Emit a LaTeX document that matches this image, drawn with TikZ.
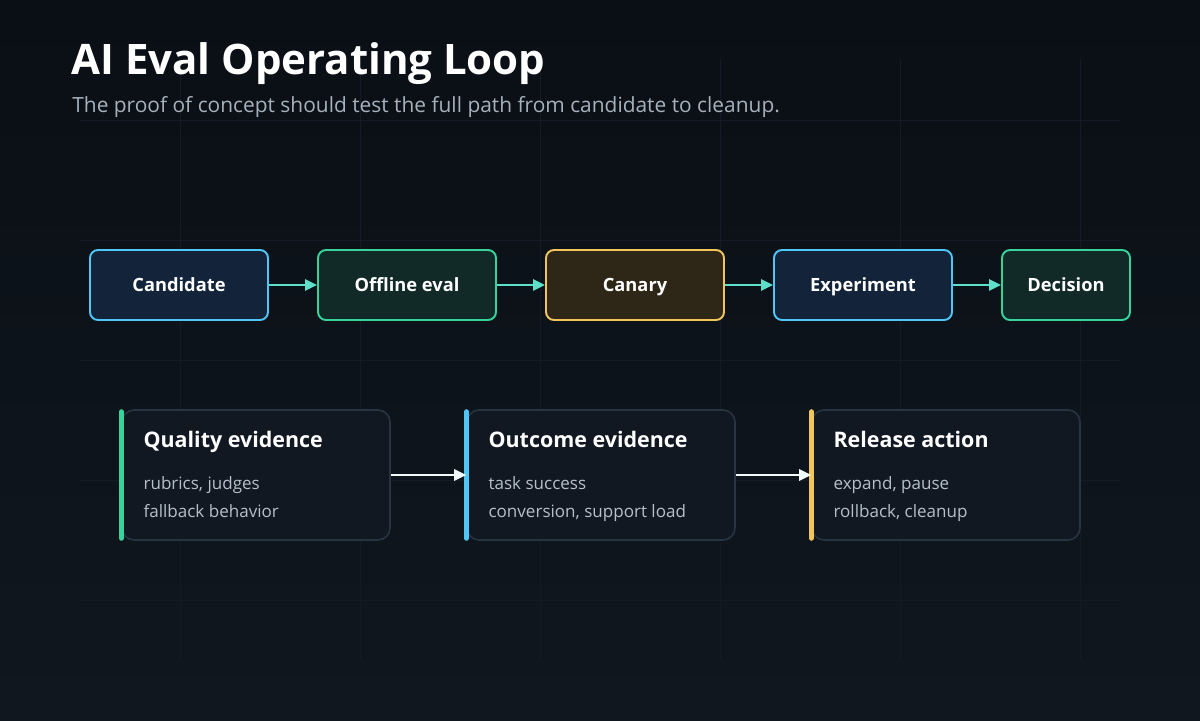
\documentclass[tikz,border=0pt]{standalone}
\usepackage{fontspec}
\setmainfont{Open Sans}
\usetikzlibrary{arrows.meta,positioning}
\definecolor{bgtop}{HTML}{0A0F15}
\definecolor{bgbot}{HTML}{10171F}
\definecolor{gridc}{HTML}{131C26}
\definecolor{blueln}{HTML}{4FC6F5}
\definecolor{greenln}{HTML}{37D39B}
\definecolor{yellowln}{HTML}{F2C45C}
\definecolor{bluefill}{HTML}{12233A}
\definecolor{greenfill}{HTML}{122A27}
\definecolor{yellowfill}{HTML}{2E2717}
\definecolor{tealarr}{HTML}{5EDFCA}
\definecolor{cardfill}{HTML}{111822}
\definecolor{cardln}{HTML}{273543}
\definecolor{bodytxt}{HTML}{B5C0CB}
\definecolor{subtxt}{HTML}{A6B1BC}

\begin{document}
\begin{tikzpicture}[x=0.02cm, y=-0.02cm,
    stage/.style={rectangle, rounded corners=0.16cm, draw, line width=1.1pt, minimum width=3.56cm, minimum height=1.4cm,
        text=white, text height=1.33ex, text depth=0pt, font=\bfseries\fontsize{10.4}{12}\selectfont},
    card/.style={rectangle, rounded corners=0.24cm, draw=cardln, fill=cardfill, line width=0.9pt, minimum width=5.36cm, minimum height=2.6cm},
    cardtitle/.style={anchor=base west, inner sep=0pt, text=white, font=\bfseries\fontsize{12.2}{14}\selectfont},
    cardbody/.style={anchor=base west, inner sep=0pt, text=bodytxt, font=\fontsize{9.7}{11}\selectfont},
    accent/.style={line width=0.1cm, line cap=round},
    flow/.style={-{Triangle[length=0.24cm, width=0.22cm]}, tealarr, line width=1.6pt},
    link/.style={-{Triangle[length=0.24cm, width=0.22cm]}, white!92!tealarr, line width=1.5pt}
]
    % background and grid
    \shade[top color=bgtop, bottom color=bgbot] (0,0) rectangle (1200,720);
    \useasboundingbox (0,0) rectangle (1200,720);
    \foreach \y in {120,240,360,480,600}
        \draw[gridc, line width=0.5pt] (80,\y) -- (1120,\y);
    \foreach \x in {180,360,540,720,900,1080}
        \draw[gridc, line width=0.5pt] (\x,60) -- (\x,660);

    % heading
    \node[anchor=base west, inner sep=0pt, text=white, font=\bfseries\fontsize{23.9}{28}\selectfont] (title) at (71,74) {AI Eval Operating Loop};
    \node[anchor=base west, inner sep=0pt, text=subtxt, font=\fontsize{11.9}{14}\selectfont] (subtitle) at (72,112) {The proof of concept should test the full path from candidate to cleanup.};

    % pipeline
    \node[stage, draw=blueln, fill=bluefill] (cand) at (179,285) {Candidate};
    \node[stage, draw=greenln, fill=greenfill] (offline) at (407,285) {Offline eval};
    \node[stage, draw=yellowln, fill=yellowfill] (canary) at (635,285) {Canary};
    \node[stage, draw=blueln, fill=bluefill] (expt) at (863,285) {Experiment};
    \node[stage, draw=greenln, fill=greenfill, minimum width=2.56cm] (decision) at (1066,285) {Decision};

    \draw[flow] (cand) -- (offline);
    \draw[flow] (offline) -- (canary);
    \draw[flow] (canary) -- (expt);
    \draw[flow] (expt) -- (decision);

    % evidence cards
    \node[card] (quality) at (256,475) {};
    \node[card] (outcome) at (601,475) {};
    \node[card] (release) at (946,475) {};

    \draw[accent, greenln] ([yshift=-0.05cm]quality.north west) -- ([yshift=0.05cm]quality.south west);
    \draw[accent, blueln] ([yshift=-0.05cm]outcome.north west) -- ([yshift=0.05cm]outcome.south west);
    \draw[accent, yellowln] ([yshift=-0.05cm]release.north west) -- ([yshift=0.05cm]release.south west);

    \node[cardtitle] (qhead) at ([xshift=0.44cm, yshift=-0.76cm]quality.north west) {Quality evidence};
    \node[cardbody] (qline1) at ([xshift=0.44cm, yshift=-1.6cm]quality.north west) {rubrics, judges};
    \node[cardbody] (qline2) at ([xshift=0.44cm, yshift=-2.16cm]quality.north west) {fallback behavior};

    \node[cardtitle] (ohead) at ([xshift=0.44cm, yshift=-0.76cm]outcome.north west) {Outcome evidence};
    \node[cardbody] (oline1) at ([xshift=0.44cm, yshift=-1.6cm]outcome.north west) {task success};
    \node[cardbody] (oline2) at ([xshift=0.44cm, yshift=-2.16cm]outcome.north west) {conversion, support load};

    \node[cardtitle] (rhead) at ([xshift=0.44cm, yshift=-0.76cm]release.north west) {Release action};
    \node[cardbody] (rline1) at ([xshift=0.44cm, yshift=-1.6cm]release.north west) {expand, pause};
    \node[cardbody] (rline2) at ([xshift=0.44cm, yshift=-2.16cm]release.north west) {rollback, cleanup};

    \draw[link] (quality) -- (outcome);
    \draw[link] (outcome) -- (release);
\end{tikzpicture}
\end{document}
